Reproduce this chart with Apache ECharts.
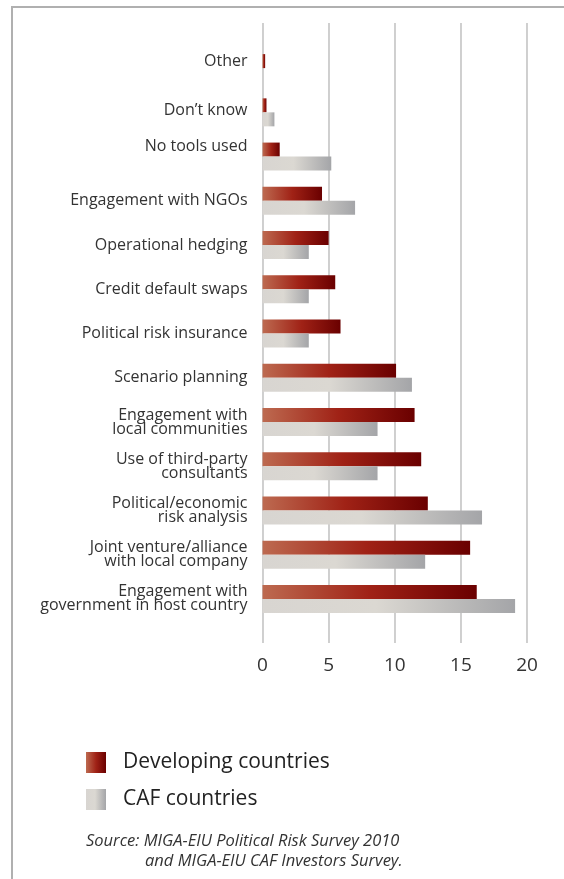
<!DOCTYPE html>
<html>
<head>
<meta charset="utf-8">
<script src="https://cdn.jsdelivr.net/npm/echarts@6/dist/echarts.min.js"></script>
<style>
  html, body { margin: 0; padding: 0; background: #fff; }
  #chart { width: 564px; height: 879px; }
</style>
</head>
<body>
<div id="chart"></div>
<script>
// categories top to bottom
const categories = [
  'Other',
  'Don\u2019t know',
  'No tools used',
  'Engagement with NGOs',
  'Operational hedging',
  'Credit default swaps',
  'Political risk insurance',
  'Scenario planning',
  'Engagement with\nlocal communities',
  'Use of third-party\nconsultants',
  'Political/economic\nrisk analysis',
  'Joint venture/alliance\nwith local company',
  'Engagement with\ngovernment in host country'
];
const developing = [0.2, 0.3, 1.3, 4.5, 5.0, 5.5, 5.9, 10.1, 11.5, 12.0, 12.5, 15.7, 16.2];
const caf = [0, 0.9, 5.2, 7.0, 3.5, 3.5, 3.5, 11.3, 8.7, 8.7, 16.6, 12.3, 19.1];
const xTicks = [0, 5, 10, 15, 20];

const redGrad = new echarts.graphic.LinearGradient(0, 0, 1, 0, [
  {offset: 0, color: '#bd6a50'},
  {offset: 0.5, color: '#a02216'},
  {offset: 1, color: '#6a0000'}
]);
const greyGrad = new echarts.graphic.LinearGradient(0, 0, 1, 0, [
  {offset: 0, color: '#d8d5d1'},
  {offset: 0.45, color: '#dbd8d2'},
  {offset: 1, color: '#a4a5a8'}
]);

const labelFont = '"Open Sans", "DejaVu Sans", sans-serif';
// a few single-line labels sit a little above their bars
const lift = {'Other': 'up7', 'Don\u2019t know': 'up2', 'No tools used': 'up10'};
const liftStyle = n => ({fontFamily: labelFont, fontSize: 16, color: '#333', padding: [0, 0, n * 2, 0]});

let option = {
  animation: false,
  graphic: [{
    type: 'polyline',
    shape: {points: [[12, 879], [12, 7], [564, 7]]},
    style: {stroke: '#b0b0b0', lineWidth: 2, fill: null}
  }],
  title: [{
    text: 'Source: MIGA-EIU Political Risk Survey 2010',
    left: 86, top: 833, padding: 0,
    textStyle: {fontFamily: labelFont, fontStyle: 'italic', fontWeight: 'normal', fontSize: 16.5, color: '#333'}
  }, {
    text: 'and MIGA-EIU CAF Investors Survey.',
    left: 145, top: 853, padding: 0,
    textStyle: {fontFamily: labelFont, fontStyle: 'italic', fontWeight: 'normal', fontSize: 16.5, color: '#333'}
  }],
  legend: {
    orient: 'vertical',
    left: 86, top: 752, padding: 0,
    itemWidth: 20, itemHeight: 21, itemGap: 16,
    icon: 'rect',
    textStyle: {fontFamily: labelFont, fontSize: 21, color: '#222', padding: [0, 0, 0, 12]},
    data: ['Developing countries', 'CAF countries']
  },
  grid: [
    {left: 262.5, right: 37, top: 46, bottom: 258},
    {left: 262.5, right: 37, top: 23, bottom: 236}
  ],
  xAxis: [{
    gridIndex: 0, type: 'value', min: 0, max: 20, show: false
  }, {
    gridIndex: 1, type: 'value', min: 0, max: 20, interval: 5,
    axisLine: {show: false}, axisTick: {show: false},
    splitLine: {show: true, lineStyle: {color: '#c4c4c4', width: 1.6}},
    axisLabel: {
      margin: 13, fontFamily: labelFont, fontSize: 19, color: '#333',
      formatter: v => xTicks.indexOf(v) >= 0 ? String(v) : ''
    }
  }],
  yAxis: [{
    gridIndex: 0, type: 'category', inverse: true, data: categories,
    axisLine: {show: false}, axisTick: {show: false}, splitLine: {show: false},
    axisLabel: {
      margin: 15, fontFamily: labelFont, fontSize: 16, color: '#333', lineHeight: 14,
      formatter: v => lift[v] ? '{' + lift[v] + '|' + v + '}' : v,
      rich: {up7: liftStyle(7), up2: liftStyle(2), up10: liftStyle(10)}
    }
  }, {
    gridIndex: 1, type: 'value', show: false
  }],
  series: [{
    name: 'Developing countries', type: 'bar',
    xAxisIndex: 0, yAxisIndex: 0,
    barWidth: 14, barGap: '0%',
    itemStyle: {color: redGrad},
    data: developing
  }, {
    name: 'CAF countries', type: 'bar',
    xAxisIndex: 0, yAxisIndex: 0,
    barWidth: 14, barGap: '0%',
    itemStyle: {color: greyGrad},
    data: caf
  }]
};

let myChart = echarts.init(document.getElementById('chart'));
myChart.setOption(option);
</script>
</body>
</html>
